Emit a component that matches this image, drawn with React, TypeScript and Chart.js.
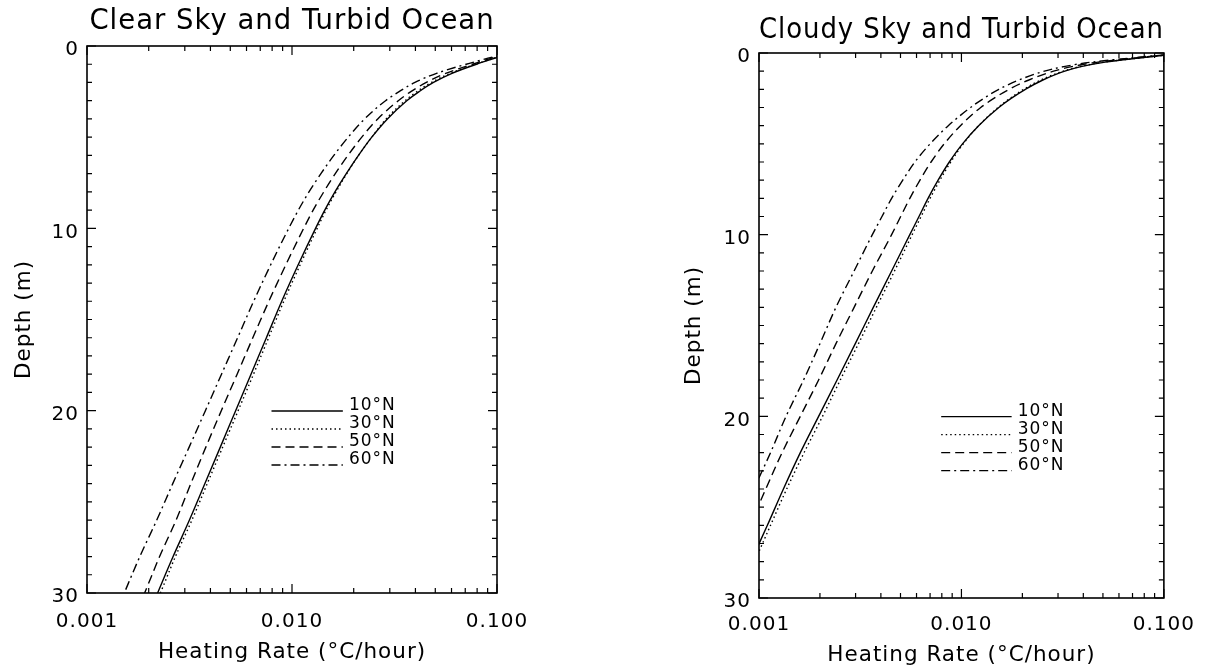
import React, { useEffect, useRef } from 'react';
import { Chart, registerables } from 'chart.js';

Chart.register(...registerables);

// ---------------- data ----------------
const seriesLabels = ['10°N', '30°N', '50°N', '60°N'];

const clearTitle = 'Clear Sky and Turbid Ocean';
const clearDepth = [0, 0.5, 1, 1.5, 2, 2.5, 3, 4, 5, 6, 7, 8, 9, 10, 12, 14, 16, 18, 20, 22, 24, 26, 28, 30, 32];
const clear10N = [0.1778, 0.1096, 0.0794, 0.0603, 0.049, 0.0417, 0.0363, 0.0292, 0.0245, 0.0211, 0.0184, 0.0162, 0.01445, 0.01303, 0.01072, 0.00891, 0.0075, 0.00631, 0.00531, 0.00447, 0.00376, 0.00316, 0.00263, 0.00221, 0.00186];
const clear30N = [0.1778, 0.1096, 0.0785, 0.0592, 0.0479, 0.0407, 0.0356, 0.0288, 0.0245, 0.0211, 0.0185, 0.0164, 0.01466, 0.01327, 0.01096, 0.00912, 0.00769, 0.00649, 0.00546, 0.00459, 0.00386, 0.00325, 0.0027, 0.00228, 0.00191];
const clear50N = [0.1778, 0.1072, 0.0759, 0.0562, 0.0452, 0.038, 0.033, 0.0262, 0.0219, 0.01875, 0.01626, 0.01429, 0.01268, 0.0114, 0.00933, 0.00771, 0.00644, 0.0054, 0.00452, 0.0038, 0.00321, 0.00272, 0.00226, 0.00191, 0.0016];
const clear60N = [0.1778, 0.1047, 0.0708, 0.0507, 0.0398, 0.0333, 0.0286, 0.0226, 0.0188, 0.016, 0.01384, 0.0121, 0.01074, 0.00964, 0.00787, 0.0065, 0.00543, 0.00453, 0.00378, 0.00315, 0.00262, 0.00219, 0.00181, 0.00152, 0.00128];

const cloudyTitle = 'Cloudy Sky and Turbid Ocean';
const cloudyDepth = [0, 0.25, 0.5, 0.75, 1, 1.5, 2, 2.5, 3, 4, 5, 6, 7, 8, 9, 10, 12, 14, 16, 18, 20, 22, 24, 26, 28, 30];
const cloudy10N = [0.1259, 0.0794, 0.0513, 0.0389, 0.0324, 0.0251, 0.0207, 0.0176, 0.0153, 0.01216, 0.01012, 0.00871, 0.00767, 0.00684, 0.00617, 0.00556, 0.00452, 0.00367, 0.00299, 0.00243, 0.00197, 0.0016, 0.00132, 0.0011, 0.000912, 0.000759];
const cloudy30N = [0.1259, 0.0794, 0.0508, 0.0384, 0.0318, 0.0245, 0.0203, 0.01734, 0.01517, 0.01216, 0.01021, 0.00885, 0.00783, 0.007, 0.00632, 0.00571, 0.00467, 0.0038, 0.0031, 0.00252, 0.00206, 0.00167, 0.00137, 0.00114, 0.00095, 0.00079];
const cloudy50N = [0.1259, 0.0759, 0.0473, 0.0351, 0.0285, 0.0214, 0.0172, 0.01445, 0.01245, 0.00989, 0.00822, 0.00708, 0.00624, 0.00556, 0.00501, 0.00452, 0.00363, 0.00295, 0.0024, 0.00197, 0.0016, 0.0013, 0.00108, 0.000902, 0.00075, 0.000624];
const cloudy60N = [0.1259, 0.0724, 0.0442, 0.032, 0.0257, 0.0191, 0.0153, 0.01288, 0.01109, 0.00861, 0.007, 0.00589, 0.00513, 0.00452, 0.00405, 0.00363, 0.00295, 0.0024, 0.002, 0.00166, 0.00136, 0.00114, 0.000944, 0.000794, 0.000661, 0.00055];

const xMajorTicks = [0.001, 0.01, 0.1];
const xTickLabels = ['0.001', '0.010', '0.100'];
const xMinorTicks = [0.002, 0.003, 0.004, 0.005, 0.006, 0.007, 0.008, 0.009, 0.02, 0.03, 0.04, 0.05, 0.06, 0.07, 0.08, 0.09];
const yMajorTicks = [0, 10, 20, 30];
const yMinorTicks = [1, 2, 3, 4, 5, 6, 7, 8, 9, 11, 12, 13, 14, 15, 16, 17, 18, 19, 21, 22, 23, 24, 25, 26, 27, 28, 29];

const xAxisTitle = 'Heating Rate (°C/hour)';
const yAxisTitle = 'Depth (m)';

// ---------------- styles ----------------
const FONT = 'DejaVu Sans';
const dashStyles: number[][] = [[], [1.5, 3], [9, 5], [9, 4, 2, 4]];

type Layout = {
  canvasLeft: number;
  padLeft: number;
  padRight: number;
  titleTop: number;
  titleBottom: number;
  xAxisHeight: number;
  xTitlePad: number;
  xTickPad: number;
  yTitlePad: number;
};

const leftLayout: Layout = {
  canvasLeft: 0, padLeft: 0, padRight: 108, titleTop: 5.8, titleBottom: 7.2,
  xAxisHeight: 78, xTitlePad: 6.1, xTickPad: 16.5, yTitlePad: 11.1,
};
const rightLayout: Layout = {
  canvasLeft: 605, padLeft: 67, padRight: 41, titleTop: 14.3, titleBottom: 5.7,
  xAxisHeight: 73, xTitlePad: 3.1, xTickPad: 15, yTitlePad: 9.1,
};

const spacingPlugin = {
  id: 'spacing',
  beforeUpdate(chart: any) { (chart.ctx as any).letterSpacing = '1px'; },
  beforeDraw(chart: any) { (chart.ctx as any).letterSpacing = '1px'; },
};

const framePlugin = {
  id: 'frame',
  afterDraw(chart: any) {
    const { ctx, chartArea: a, scales } = chart;
    const xs = scales.x;
    const ys = scales.y;
    ctx.save();
    ctx.setLineDash([]);
    ctx.strokeStyle = '#000';
    ctx.lineWidth = 1.6;
    ctx.strokeRect(a.left, a.top, a.right - a.left, a.bottom - a.top);
    ctx.lineWidth = 1.2;
    ctx.beginPath();
    const xt = (v: number, len: number) => {
      const px = xs.getPixelForValue(v);
      ctx.moveTo(px, a.bottom); ctx.lineTo(px, a.bottom - len);
      ctx.moveTo(px, a.top); ctx.lineTo(px, a.top + len);
    };
    const yt = (v: number, len: number) => {
      const py = ys.getPixelForValue(v);
      ctx.moveTo(a.left, py); ctx.lineTo(a.left + len, py);
      ctx.moveTo(a.right, py); ctx.lineTo(a.right - len, py);
    };
    xMajorTicks.forEach((v) => xt(v, 9));
    xMinorTicks.forEach((v) => xt(v, 5));
    yMajorTicks.forEach((v) => yt(v, 9));
    yMinorTicks.forEach((v) => yt(v, 5));
    ctx.stroke();
    ctx.restore();
  },
};

const legendPlugin = {
  id: 'sideLegend',
  afterDatasetsDraw(chart: any) {
    const { ctx, chartArea: a } = chart;
    const w = a.right - a.left;
    const h = a.bottom - a.top;
    chart.data.datasets.forEach((ds: any, i: number) => {
      const ty = a.top + h * 0.658 + i * 18;
      const ly = ty + 5;
      ctx.save();
      ctx.strokeStyle = '#000';
      ctx.lineWidth = 1.4;
      ctx.setLineDash(ds.borderDash || []);
      ctx.beginPath();
      ctx.moveTo(a.left + w * 0.45, ly);
      ctx.lineTo(a.left + w * 0.624, ly);
      ctx.stroke();
      ctx.setLineDash([]);
      ctx.font = `17px "${FONT}"`;
      ctx.fillStyle = '#000';
      ctx.textAlign = 'left';
      ctx.textBaseline = 'middle';
      ctx.fillText(ds.label, a.left + w * 0.639, ty);
      ctx.restore();
    });
  },
};

function makeConfig(title: string, depth: number[], series: number[][], L: Layout): any {
  return {
    type: 'line',
    data: {
      datasets: series.map((vals, i) => ({
        label: seriesLabels[i],
        data: depth.map((d, j) => ({ x: vals[j], y: d })),
        borderColor: '#000',
        borderWidth: 1.4,
        borderDash: dashStyles[i],
        borderCapStyle: 'butt',
        pointRadius: 0,
        fill: false,
        cubicInterpolationMode: 'monotone',
      })),
    },
    options: {
      indexAxis: 'y',
      responsive: false,
      animation: false,
      events: [],
      layout: { padding: { left: L.padLeft, right: L.padRight, top: 0, bottom: 0 } },
      plugins: {
        legend: { display: false },
        tooltip: { enabled: false },
        title: {
          display: true,
          text: title,
          color: '#000',
          fullSize: false,
          font: { family: FONT, size: 27.5, weight: 'normal', lineHeight: 1.2 },
          padding: { top: L.titleTop, bottom: L.titleBottom },
        },
      },
      scales: {
        x: {
          type: 'logarithmic',
          position: 'bottom',
          min: 0.001,
          max: 0.1,
          grid: { display: false, drawTicks: false },
          border: { display: false },
          afterBuildTicks: (s: any) => { s.ticks = xMajorTicks.map((v) => ({ value: v, major: true })); },
          afterFit: (s: any) => { s.height = L.xAxisHeight; },
          ticks: {
            autoSkip: false,
            maxRotation: 0,
            padding: L.xTickPad,
            color: '#000',
            font: { family: FONT, size: 20, lineHeight: 1.2 },
            callback: (_v: any, i: number) => xTickLabels[i],
          },
          title: {
            display: true,
            text: xAxisTitle,
            color: '#000',
            font: { family: FONT, size: 21.5, lineHeight: 1.2 },
            padding: { top: 0, bottom: L.xTitlePad },
          },
        },
        y: {
          type: 'linear',
          position: 'left',
          reverse: true,
          min: 0,
          max: 30,
          grid: { display: false, drawTicks: false },
          border: { display: false },
          afterBuildTicks: (s: any) => { s.ticks = yMajorTicks.map((v) => ({ value: v })); },
          afterFit: (s: any) => { s.width = 87; },
          ticks: {
            padding: 8,
            labelOffset: 4,
            color: '#000',
            font: { family: FONT, size: 20, lineHeight: 1.2 },
          },
          title: {
            display: true,
            text: yAxisTitle,
            color: '#000',
            font: { family: FONT, size: 21.5, lineHeight: 1.2 },
            padding: { top: L.yTitlePad, bottom: 0 },
          },
        },
      },
    },
    plugins: [spacingPlugin, framePlugin, legendPlugin],
  };
}

function Panel(props: { title: string; depth: number[]; series: number[][]; layout: Layout }) {
  const ref = useRef<HTMLCanvasElement>(null);
  useEffect(() => {
    const chart = new Chart(ref.current as HTMLCanvasElement, makeConfig(props.title, props.depth, props.series, props.layout));
    return () => chart.destroy();
  }, []);
  return (
    <canvas
      ref={ref}
      width={605}
      height={671}
      style={{ position: 'absolute', left: props.layout.canvasLeft, top: 0, width: 605, height: 671, display: 'block' }}
    />
  );
}

export default function App() {
  return (
    <div style={{ position: 'absolute', left: 0, top: 0, width: 1210, height: 671, background: '#fff', overflow: 'hidden' }}>
      <Panel title={clearTitle} depth={clearDepth} series={[clear10N, clear30N, clear50N, clear60N]} layout={leftLayout} />
      <Panel title={cloudyTitle} depth={cloudyDepth} series={[cloudy10N, cloudy30N, cloudy50N, cloudy60N]} layout={rightLayout} />
    </div>
  );
}
